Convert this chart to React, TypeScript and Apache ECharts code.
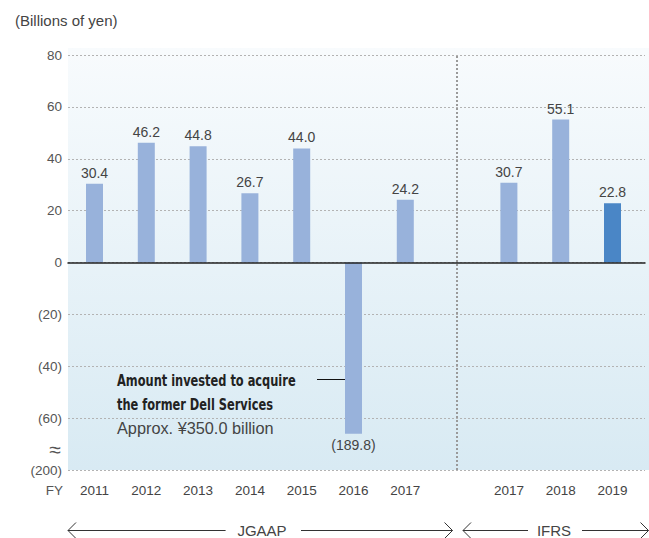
import React, { useEffect, useRef } from "react";
import * as echarts from "echarts";

// ---- data ----
const categories = ["2011", "2012", "2013", "2014", "2015", "2016", "2017", "", "2017", "2018", "2019"];
const values: (number | null)[] = [30.4, 46.2, 44.8, 26.7, 44.0, -189.8, 24.2, null, 30.7, 55.1, 22.8];
const highlightIndex = 10; // latest fiscal year (darker bar)
const dividerIndex = 7; // gap between JGAAP and IFRS
const yMin = -80;
const yMax = 80;
const yInterval = 20;
// broken axis: the bottom tick stands for (200); bars beyond it are drawn cut at the break
const yTickLabels: Record<string, string> = {
  "80": "80",
  "60": "60",
  "40": "40",
  "20": "20",
  "0": "0",
  "-20": "(20)",
  "-40": "(40)",
  "-60": "(60)",
  "-80": "(200)",
};
const breakDrawValue = -66;

const FONT = "'Liberation Sans', Arial, sans-serif";
const NARROW = "'DejaVu Sans Condensed', 'Liberation Sans', sans-serif";

function fmtVal(v: number) {
  return v < 0 ? `(${Math.abs(v).toFixed(1)})` : v.toFixed(1);
}

export default function App() {
  const ref = useRef<HTMLDivElement>(null);
  useEffect(() => {
    if (!ref.current) return;
    const chart = echarts.init(ref.current, null, { renderer: "svg" });

    const barData = values.map((v, i) => {
      if (v === null) return { value: null };
      const drawn = v < yMin ? breakDrawValue : v;
      return {
        value: drawn,
        itemStyle: { color: i === highlightIndex ? "#4a86c6" : "#98b2db" },
        label: {
          show: true,
          position: v < 0 ? "bottom" : "top",
          distance: 4,
          formatter: () => fmtVal(v),
          color: "#444",
          fontSize: 14,
          fontFamily: FONT,
        },
      };
    });

    const textColor = "#444";
    const chevron = (tipX: number, dir: number, y: number) => ({
      type: "polyline",
      shape: { points: [[tipX - dir * 8, y - 8], [tipX, y], [tipX - dir * 8, y + 8]] },
      style: { stroke: "#333", lineWidth: 1, fill: "none" },
    });
    const hline = (x1: number, x2: number, y: number) => ({
      type: "line",
      shape: { x1, y1: y, x2, y2: y },
      style: { stroke: "#333", lineWidth: 1 },
    });
    const txt = (text: string, x: number, y: number, opts: any = {}) => ({
      type: "text",
      x,
      y,
      scaleX: opts.scaleX ?? 1,
      style: {
        text,
        fill: opts.fill || textColor,
        font: opts.font || `14px ${FONT}`,
        textAlign: opts.align || "left",
        verticalAlign: "middle",
      },
    });
    const arrowY = 530.5;

    chart.setOption({
      animation: false,
      grid: [
        {
          left: 68,
          right: 0,
          top: 48,
          bottom: 68,
          show: true,
          borderWidth: 0,
          backgroundColor: {
            type: "linear",
            x: 0,
            y: 0,
            x2: 0,
            y2: 1,
            colorStops: [
              { offset: 0, color: "#f8fbfd" },
              { offset: 1, color: "#d8eaf3" },
            ],
          },
        },
        { left: 68, right: 4, top: 55, bottom: 68 },
        { left: 68.6, right: 10.6, top: 55, bottom: 68 },
      ],
      xAxis: [
        { gridIndex: 0, type: "value", show: false },
        {
          gridIndex: 1,
          type: "value",
          min: 0,
          max: 1,
          z: 5,
          axisLine: { show: true, onZero: true, lineStyle: { color: "#222", width: 1.5 } },
          axisTick: { show: false },
          axisLabel: { show: false },
          splitLine: { show: false },
        },
        {
          gridIndex: 2,
          type: "category",
          data: categories,
          axisLine: { show: false },
          axisTick: { show: false },
          axisLabel: { color: textColor, fontSize: 13.5, fontFamily: FONT, margin: 13, interval: 0 },
          splitLine: { show: false },
        },
      ],
      yAxis: [
        { gridIndex: 0, type: "value", show: false },
        {
          gridIndex: 1,
          type: "value",
          min: yMin,
          max: yMax,
          interval: yInterval,
          axisLine: { show: false },
          axisTick: { show: false },
          axisLabel: {
            color: "#555",
            fontSize: 13.5,
            fontFamily: FONT,
            margin: 6,
            formatter: (v: number) => yTickLabels[String(v)] ?? "",
          },
          splitLine: { show: true, lineStyle: { color: "#b3b3b3", type: [2, 2], width: 1 } },
        },
        {
          gridIndex: 2,
          type: "value",
          min: yMin,
          max: yMax,
          interval: yInterval,
          show: false,
          splitLine: { show: false },
        },
      ],
      series: [
        {
          type: "bar",
          xAxisIndex: 2,
          yAxisIndex: 2,
          barWidth: 17,
          data: barData,
          markLine: {
            silent: true,
            symbol: "none",
            label: { show: false },
            lineStyle: { color: "#9a9a9a", width: 2, type: [2, 2] },
            data: [{ xAxis: dividerIndex }],
          },
        },
      ],
      graphic: [
        txt("(Billions of yen)", 15, 20, { font: `15px ${FONT}` }),
        txt("FY", 63, 490, { font: `13.5px ${FONT}`, align: "right", fill: "#555" }),
        txt("≈", 55, 449, { font: `21px ${FONT}`, align: "center", fill: "#555" }),
        txt("Amount invested to acquire", 117, 381, { font: `bold 15px ${NARROW}`, fill: "#222", scaleX: 0.845 }),
        txt("the former Dell Services", 117, 405, { font: `bold 15px ${NARROW}`, fill: "#222", scaleX: 0.845 }),
        txt("Approx. ¥350.0 billion", 117, 428, { font: `16.3px ${FONT}`, fill: "#444" }),
        {
          type: "line",
          shape: { x1: 317, y1: 379.5, x2: 352, y2: 379.5 },
          style: { stroke: "#111", lineWidth: 1 },
        },
        // JGAAP arrow
        chevron(68, -1, arrowY),
        hline(68, 225.6, arrowY),
        txt("JGAAP", 262, arrowY, { font: `15px ${FONT}`, align: "center" }),
        hline(301, 452.5, arrowY),
        chevron(452.5, 1, arrowY),
        // IFRS arrow
        chevron(463, -1, arrowY),
        hline(463, 528, arrowY),
        txt("IFRS", 554, arrowY, { font: `15px ${FONT}`, align: "center" }),
        hline(582, 648.5, arrowY),
        chevron(648.5, 1, arrowY),
      ],
    });
    return () => chart.dispose();
  }, []);
  return (
    <div
      ref={ref}
      style={{ position: "fixed", left: 0, top: 0, width: 649, height: 538, background: "#fff" }}
    />
  );
}
